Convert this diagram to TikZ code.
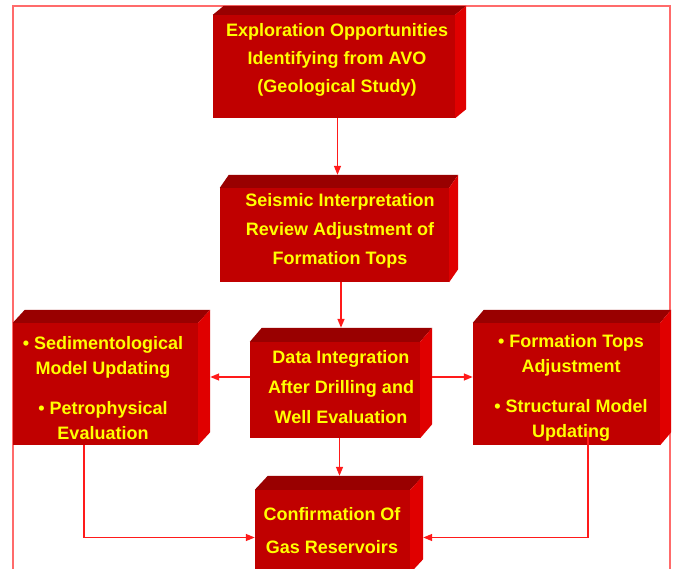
\documentclass[tikz,border=0pt]{standalone}
\usepackage{fontspec}
\setmainfont{Liberation Sans}
\usetikzlibrary{calc,arrows.meta,fit}
\definecolor{frontc}{HTML}{C00000}
\definecolor{topc}{HTML}{990000}
\definecolor{sidec}{HTML}{E00000}
\definecolor{txtc}{HTML}{FFFF00}
\definecolor{linec}{HTML}{FF1A1A}
\definecolor{framec}{HTML}{FF6B6B}
\tikzset{
  frontbox/.style={fill=frontc, draw=none, inner sep=0pt},
  lbl/.style={text=txtc, align=center, inner sep=0pt},
  arr/.style={draw=linec, line width=1.4pt, -{Triangle[length=9pt,width=7pt]}},
}
\newcommand\redblock[7]{%
  \node[frontbox, fit={(#2,#3) (#4,#5)}] (#1) {};
  \fill[topc] (#1.north west) -- ++(#6,-#7) -- ($(#1.north east)+(#6,-#7)$) -- (#1.north east) -- cycle;
  \fill[sidec] (#1.north east) -- ++(#6,-#7) -- ($(#1.south east)+(#6,-#7)$) -- (#1.south east) -- cycle;
}
\begin{document}
\begin{tikzpicture}[x=1pt,y=-1pt]
\useasboundingbox (0,0) rectangle (675,569);
\clip (0,0) rectangle (675,569);
\fill[white] (0,0) rectangle (675,569);
% frame
\draw[framec, line width=1.5pt] (13,575) -- (13,6) -- (670,6) -- (670,575);
% boxes
\redblock{b1}{213}{15}{455}{118}{11}{9}
\redblock{b2}{220}{188}{449}{282}{9}{13}
\redblock{b3}{13}{323}{198}{445}{12}{13}
\redblock{b4}{250}{342}{420}{438}{12}{14}
\redblock{b5}{473}{323}{660}{445}{11}{13}
\redblock{b6}{255}{490}{410}{573}{13}{14}
% connector points
\coordinate (b2top) at ($(b2.north)+(3,-13)$);
\coordinate (b4top) at ($(b4.north)+(6,-14)$);
\coordinate (b6top) at ($(b6.north)+(7,-14)$);
\coordinate (b3in) at ($(b3.east)+(12,-7)$);
\coordinate (b4out) at ($(b4.east)+(12,-13)$);
\coordinate (s3) at ($(b3.south west)+(71,0)$);
\coordinate (s5) at ($(b5.south west)+(115,-14)$);
\coordinate (b6in) at ($(b6.west)+(0,6)$);
\coordinate (b6rin) at ($(b6.east)+(13,6)$);
% connectors
\draw[arr] (b1.south -| b2top) -- (b2top);
\draw[arr] (b2.south -| b4top) -- (b4top);
\draw[arr] (b4.south -| b6top) -- (b6top);
\draw[arr] (b4.west |- b3in) -- (b3in);
\draw[arr] (b4out) -- (b5.west |- b4out);
\draw[arr] (s3) |- (b6in);
\draw[arr] (s5) |- (b6rin);
% texts
\node[lbl, font=\fontsize{18}{28}\selectfont\bfseries] (t1) at (337,60)
  {Exploration Opportunities\\Identifying from AVO\\(Geological Study)};
\node[lbl, font=\fontsize{18}{29}\selectfont\bfseries] (t2) at (340,231)
  {Seismic Interpretation\\Review Adjustment of\\Formation Tops};
\node[lbl, font=\fontsize{18}{25}\selectfont\bfseries] (t3) at (103,388)
  {• Sedimentological\\Model Updating\\[15pt]• Petrophysical\\Evaluation};
\node[lbl, font=\fontsize{18}{30}\selectfont\bfseries] (t4) at (341,387)
  {Data Integration\\After Drilling and\\Well Evaluation};
\node[lbl, font=\fontsize{18}{25}\selectfont\bfseries] (t5) at (571,388)
  {• Formation Tops\\Adjustment\\[15pt]• Structural Model\\Updating};
\node[lbl, font=\fontsize{18}{33}\selectfont\bfseries] (t6) at (332,531)
  {Confirmation Of\\Gas Reservoirs};
\end{tikzpicture}
\end{document}
